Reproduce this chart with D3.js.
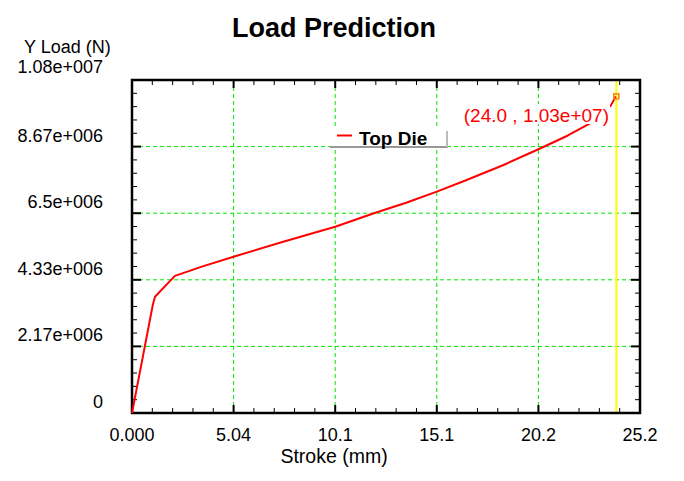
<!DOCTYPE html>
<html><head><meta charset="utf-8">
<script src="https://cdn.jsdelivr.net/npm/d3@7"></script>
<style>body{margin:0;background:#fff}svg{display:block;font-family:"Liberation Sans",Arial,sans-serif}</style>
</head><body><svg id="c" width="684" height="481"></svg>
<script>
const strokeMM = [0, 1.03, 1.14, 2.13, 3.5, 5.04, 7.5, 10.08, 12.0, 13.6, 15.12, 16.6, 18.4, 20.16, 21.6, 22.88, 23.75, 24.0];
const loadN    = [0, 3.51e6, 3.78e6, 4.46e6, 4.77e6, 5.085e6, 5.57e6, 6.06e6, 6.5e6, 6.84e6, 7.2e6, 7.58e6, 8.06e6, 8.58e6, 9.02e6, 9.48e6, 1.0e7, 1.03e7];
const xTicks = [0, 5.04, 10.08, 15.12, 20.16, 25.2];
const xTickLabels = ["0.000", "5.04", "10.1", "15.1", "20.2", "25.2"];
const yTicks = [0, 2.16667e6, 4.33333e6, 6.5e6, 8.66667e6, 1.083333e7];
const yTickLabels = ["0", "2.17e+006", "4.33e+006", "6.5e+006", "8.67e+006", "1.08e+007"];
const cursorX = 24.0, cursorY = 1.03e7;
const cursorLabel = "(24.0 , 1.03e+07)";
const seriesName = "Top Die";

const svg = d3.select("#c");
const L = 132, R = 640, T = 80, B = 413;
const x = d3.scaleLinear().domain([0, 25.2]).range([L, R]);
const y = d3.scaleLinear().domain([0, 1.083333e7]).range([B, T]);

// grid
const grid = svg.append("g").attr("stroke", "#00e600").attr("stroke-width", 1).attr("stroke-dasharray", "4,3");
xTicks.slice(1, -1).forEach(v => grid.append("line").attr("x1", x(v)).attr("x2", x(v)).attr("y1", T).attr("y2", B));
yTicks.slice(1, -1).forEach(v => grid.append("line").attr("x1", L).attr("x2", R).attr("y1", y(v)).attr("y2", y(v)));

// minor/major ticks (inward) on all four sides
const xMinor = d3.range(0, 25.2 + 1e-6, 25.2 / 25);
const yMinor = d3.range(0, 1.083333e7 + 1, 1.083333e7 / 25);
const tk = svg.append("g").attr("stroke", "#000");
xMinor.forEach((v, i) => {
  const len = i % 5 === 0 ? 8 : 5, w = i % 5 === 0 ? 2 : 1;
  tk.append("line").attr("x1", x(v)).attr("x2", x(v)).attr("y1", B).attr("y2", B - len).attr("stroke-width", w);
  tk.append("line").attr("x1", x(v)).attr("x2", x(v)).attr("y1", T).attr("y2", T + len).attr("stroke-width", w);
});
yMinor.forEach((v, i) => {
  const len = i % 5 === 0 ? 9 : 5, w = i % 5 === 0 ? 2 : 1;
  tk.append("line").attr("y1", y(v)).attr("y2", y(v)).attr("x1", L).attr("x2", L + len).attr("stroke-width", w);
  tk.append("line").attr("y1", y(v)).attr("y2", y(v)).attr("x1", R).attr("x2", R - len).attr("stroke-width", w);
});

// cursor line
svg.append("line").attr("x1", x(cursorX) + 0.5).attr("x2", x(cursorX) + 0.5).attr("y1", T).attr("y2", B)
  .attr("stroke", "#ffff00").attr("stroke-width", 2);

// frame
svg.append("rect").attr("x", L).attr("y", T).attr("width", R - L).attr("height", B - T)
  .attr("fill", "none").attr("stroke", "#000").attr("stroke-width", 2.5);

// curve
const data = strokeMM.map((s, i) => [s, loadN[i]]);
svg.append("path").datum(data)
  .attr("d", d3.line().x(d => x(d[0])).y(d => y(d[1])))
  .attr("fill", "none").attr("stroke", "#ff0000").attr("stroke-width", 2).attr("stroke-linejoin", "round");

// cursor label with white background
const lbl = svg.append("g");
lbl.append("rect").attr("x", 461).attr("y", 104).attr("width", 149).attr("height", 20).attr("fill", "#fff");
lbl.append("text").attr("x", 609).attr("y", 122).attr("text-anchor", "end")
  .attr("font-size", 19).attr("fill", "#ff0000").text(cursorLabel);

// marker
svg.append("rect").attr("x", x(cursorX) - 2).attr("y", y(cursorY) - 2.5).attr("width", 5).attr("height", 5)
  .attr("fill", "none").attr("stroke", "#ff8000").attr("stroke-width", 1.5);

// legend
const lg = svg.append("g");
lg.append("rect").attr("x", 331).attr("y", 127).attr("width", 114).attr("height", 19).attr("fill", "#fff");
lg.append("line").attr("x1", 330).attr("x2", 448).attr("y1", 147).attr("y2", 147).attr("stroke", "#999").attr("stroke-width", 2);
lg.append("line").attr("x1", 447).attr("x2", 447).attr("y1", 131).attr("y2", 147).attr("stroke", "#bbb").attr("stroke-width", 2);
lg.append("line").attr("x1", 337).attr("x2", 352).attr("y1", 135.5).attr("y2", 135.5).attr("stroke", "#ff0000").attr("stroke-width", 2);
lg.append("text").attr("x", 359).attr("y", 145).attr("font-size", 19).attr("font-weight", "bold").attr("fill", "#000").text(seriesName);

// tick labels
const xl = svg.append("g").attr("font-size", 18).attr("fill", "#000").attr("text-anchor", "middle");
xTicks.forEach((v, i) => xl.append("text").attr("x", x(v)).attr("y", 441).text(xTickLabels[i]));
const yl = svg.append("g").attr("font-size", 18).attr("fill", "#000").attr("text-anchor", "end");
yTicks.forEach((v, i) => yl.append("text").attr("x", 103).attr("y", y(v) - (i === yTicks.length - 1 ? 7 : 5)).text(yTickLabels[i]));

// titles
svg.append("text").attr("x", 334).attr("y", 37).attr("text-anchor", "middle").attr("font-size", 27)
  .attr("font-weight", "bold").text("Load Prediction");
svg.append("text").attr("x", 24).attr("y", 53).attr("font-size", 18).text("Y Load (N)");
svg.append("text").attr("x", 334).attr("y", 463).attr("text-anchor", "middle").attr("font-size", 19.5).text("Stroke (mm)");
</script></body></html>
